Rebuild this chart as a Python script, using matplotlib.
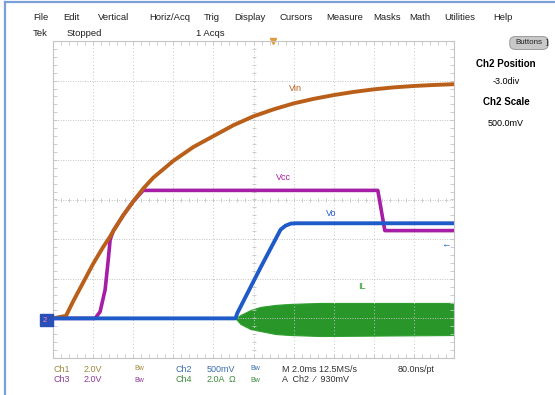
import numpy as np
import matplotlib.pyplot as plt
from matplotlib.patches import Rectangle, FancyBboxPatch

plt.rcParams['font.family'] = ['Liberation Sans', 'DejaVu Sans']

W, H = 555, 395

# time base 2 ms/div, 10 divisions
t_vin = [0.0, 0.65, 1.0, 1.5, 2.0, 2.5, 2.85, 3.0, 3.5, 4.0, 4.5, 5.0, 6.0, 7.0,
         8.0, 9.0, 10.0, 11.0, 12.0, 13.0, 14.0, 15.0, 16.0, 17.0, 18.0, 19.0, 20.0]
vin = [0.0, 0.13, 0.85, 1.8, 2.75, 3.6, 4.13, 4.4, 5.2, 5.9, 6.55, 7.1, 7.95, 8.65,
       9.2, 9.75, 10.2, 10.55, 10.85, 11.08, 11.27, 11.43, 11.56, 11.66, 11.73, 11.78, 11.82]

t_vcc = [0.0, 2.1, 2.35, 2.6, 2.75, 2.85, 3.0, 3.5, 4.0, 4.5, 4.7, 16.2, 16.55, 20.0]
vcc = [0.0, 0.0, 0.34, 1.45, 2.9, 3.97, 4.4, 5.2, 5.9, 6.46, 6.46, 6.46, 4.43, 4.43]

t_vo = [0.0, 9.1, 9.2, 10.35, 11.35, 11.6, 11.85, 12.1, 20.0]
vo = [0.0, 0.0, 0.07, 0.64, 1.12, 1.17, 1.195, 1.2, 1.2]

t_il = [9.1, 9.35, 9.85, 10.35, 11.1, 11.85, 13.35, 20.0]
il_hi = [0.0, 0.17, 0.42, 0.58, 0.68, 0.73, 0.78, 0.78]
il_lo = [0.0, -0.28, -0.54, -0.64, -0.79, -0.84, -0.89, -0.84]

# volts (amps) per division, all grounds at -3 div
scale = {'ch1': 2.0, 'ch2': 0.5, 'ch3': 2.0, 'ch4': 2.0}
ground = -3.0

menu = ['File', 'Edit', 'Vertical', 'Horiz/Acq', 'Trig', 'Display',
        'Cursors', 'Measure', 'Masks', 'Math', 'Utilities', 'Help']
menu_x = [33, 63, 98, 149, 204, 234, 279, 326, 373, 409, 444, 493]


def div(vals, ch):
    return ground + np.asarray(vals) / scale[ch]


def px(x, y):
    return x / W, 1 - y / H


fig = plt.figure(figsize=(W / 100, H / 100), dpi=100)
fig.patch.set_facecolor('white')

left, right, top, bottom = 53, 454, 41, 358
ax = fig.add_axes([left / W, 1 - bottom / H, (right - left) / W, (bottom - top) / H])
ax.set_xlim(0, 20)
ax.set_ylim(-4, 4)

# graticule
gcol = '#c4c4c4'
for s in ax.spines.values():
    s.set_color(gcol)
    s.set_linewidth(0.8)
ax.set_xticks(np.arange(0, 20.01, 0.4))
ax.set_yticks(np.arange(-4, 4.01, 0.2))
ax.tick_params(direction='in', length=3, width=0.6, color=gcol,
               top=True, right=True, labelbottom=False, labelleft=False)
for x in np.arange(2, 20, 2):
    ax.axvline(x, color=gcol, lw=0.7, ls=(0, (1, 2.5)))
for y in np.arange(-3, 4, 1):
    ax.axhline(y, color=gcol, lw=0.7, ls=(0, (1, 1.5)))
xs = np.arange(0, 20.01, 0.4)
ax.plot(xs, np.zeros_like(xs), ls='none', marker='|', ms=3.5, mew=0.6, color=gcol)
ys = np.arange(-4, 4.01, 0.2)
ax.plot(np.full_like(ys, 10), ys, ls='none', marker='_', ms=3.5, mew=0.6, color=gcol)

# traces
ax.plot(t_vcc, div(vcc, 'ch3'), color='#a51ea5', lw=2.6, solid_joinstyle='round')
ax.plot(t_vin, div(vin, 'ch1'), color='#b95f19', lw=2.8, solid_joinstyle='round')
ax.fill_between(t_il, div(il_lo, 'ch4'), div(il_hi, 'ch4'), color='#289628', lw=0.8,
                edgecolor='#2f9f2f')
ax.plot(t_vo, div(vo, 'ch2'), color='#1e5ac8', lw=2.8, solid_joinstyle='round')

# trace labels
ax.text(12.1, div(11.6, 'ch1'), 'Vin', color='#b95f19', fontsize=6.5, ha='center', va='center')
ax.text(11.5, div(7.1, 'ch3'), 'Vcc', color='#a51ea5', fontsize=6.5, ha='center', va='center')
ax.text(13.9, div(1.32, 'ch2'), 'Vo', color='#1e5ac8', fontsize=6.5, ha='center', va='center')
ax.text(15.4, div(1.6, 'ch4'), 'IL', color='#289628', fontsize=6.5, ha='center', va='center')

# trigger level and position markers
ax.text(19.85, div(0.93, 'ch2'), '\u2190', color='#1e5ac8', fontsize=7, ha='right', va='center')
ax.plot([10.95], [4.0], marker='v', ms=5, color='#e09a3a', clip_on=False)
fig.patches.append(Rectangle(px(40, 326), 13 / W, 12 / H, transform=fig.transFigure,
                             color='#2a4fb8'))
fig.text(*px(45, 320), '2', color='#ff8ab0', fontsize=5.5, ha='center', va='center')

# window frame
fig.add_artist(plt.Line2D([5 / W, 5 / W], [0, 1 - 2 / H], color='#7aa0d8', lw=1.6))
fig.add_artist(plt.Line2D([5 / W, 1], [1 - 2 / H, 1 - 2 / H], color='#7aa0d8', lw=1.6))

# menu and status bar
for m, x in zip(menu, menu_x):
    fig.text(*px(x, 17), m, fontsize=6.8, va='center', color='#202020')
fig.text(*px(33, 33), 'Tek', fontsize=6.8, va='center', color='#202020')
fig.text(*px(67, 33), 'Stopped', fontsize=6.8, va='center', color='#202020')
fig.text(*px(196, 33), '1 Acqs', fontsize=6.8, va='center', color='#202020')

fig.patches.append(FancyBboxPatch(px(512, 48), 34 / W, 10 / H, transform=fig.transFigure,
                                  boxstyle='round,pad=0.004,rounding_size=0.012',
                                  fc='#c8c8c8', ec='#909090', lw=0.6))
fig.text(*px(529, 42), 'Buttons', fontsize=5.8, ha='center', va='center', color='#202020')
fig.text(*px(547, 42), ']', fontsize=6, ha='center', va='center', color='#202020')

# side panel
fig.text(*px(506, 64), 'Ch2 Position', fontsize=7, weight='bold', ha='center', va='center')
fig.text(*px(506, 81), '-3.0div', fontsize=6.5, ha='center', va='center')
fig.text(*px(506, 102), 'Ch2 Scale', fontsize=7, weight='bold', ha='center', va='center')
fig.text(*px(506, 124), '500.0mV', fontsize=6.5, ha='center', va='center')

# channel readouts
c1, c2, c3, c4, ck = '#9c8a3a', '#3a6fb0', '#8c3c96', '#3c8c3c', '#303030'
rows = [
    (369, [(53, 'Ch1', c1), (84, '2.0V', c1), (134, 'Bw', c1), (176, 'Ch2', c2),
           (207, '500mV', c2), (250, 'Bw', c2), (282, 'M 2.0ms 12.5MS/s', ck),
           (398, '80.0ns/pt', ck)]),
    (380, [(53, 'Ch3', c3), (84, '2.0V', c3), (134, 'Bw', c3), (176, 'Ch4', c4),
           (207, '2.0A', c4), (229, '\u03a9', c4), (250, 'Bw', c4),
           (282, 'A  Ch2  \u2044  930mV', ck)]),
]
for y, items in rows:
    for x, s, c in items:
        fs = 5 if s == 'Bw' else 6.5
        fig.text(*px(x, y), s, fontsize=fs, color=c, va='center')

fig.savefig('out.png', dpi=100)
